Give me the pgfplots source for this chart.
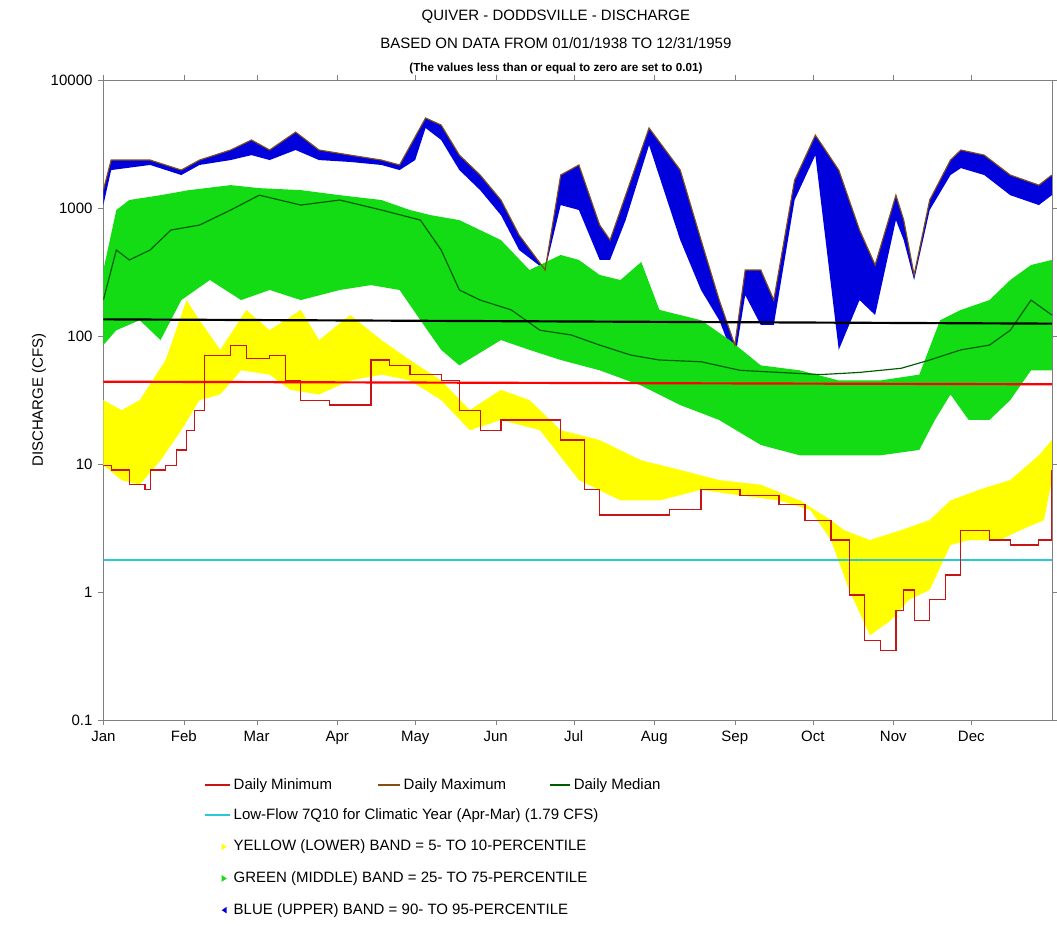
\documentclass[border=0pt]{standalone}
\usepackage{pgfplots}
\pgfplotsset{compat=1.18}
\usepgfplotslibrary{fillbetween}
\usepackage{fontspec}
\setmainfont{Liberation Sans}
\definecolor{bandblue}{RGB}{0,0,220}
\definecolor{bandgreen}{RGB}{20,220,20}
\definecolor{bandyellow}{RGB}{255,255,0}
\definecolor{maxbrown}{RGB}{130,80,20}
\definecolor{medgreen}{RGB}{0,90,0}
\definecolor{lowflowcyan}{RGB}{40,200,215}
\definecolor{minred}{RGB}{200,20,20}
\begin{document}
\begin{tikzpicture}[font=\fontsize{9}{11}\selectfont]
\begin{axis}[
  scale only axis, width=569pt, height=384pt,
  ymode=log, ymin=0.1, ymax=10000, xmin=0, xmax=365,
  ytick={0.1,1,10,100,1000,10000},
  yticklabels={0.1,1,10,100,1000,10000},
  minor ytick={}, yminorticks=false,
  xtick={0,31,59,90,120,151,181,212,243,273,304,334},
  xticklabels={Jan,Feb,Mar,Apr,May,Jun,Jul,Aug,Sep,Oct,Nov,Dec},
  tick label style={font=\fontsize{9}{11}\selectfont},
  /pgf/number format/assume math mode=true,
  ylabel={DISCHARGE (CFS)}, ylabel style={yshift=-4pt},
  tick align=outside, major tick length=3pt,
  axis line style={gray},
  clip=true,
]
\addplot[draw=lowflowcyan, line width=1pt, mark=none] coordinates {(0,1.79)(120,1.79)(240,1.79)(365,1.79)};
\addplot[draw=none, name path=max] coordinates {(0,1380)(3,2370)(18,2370)(30,1980)(37,2370)(49,2840)(57,3400)(64,2840)(74,3920)(83,2840)(95,2590)(107,2370)(114,2170)(124,5050)(130,4450)(137,2590)(145,1810)(153,1155)(160,615)(170,328)(176,1810)(183,2170)(191,736)(195,562)(210,4220)(222,1980)(230,562)(237,191)(243,85)(247,328)(253,328)(258,191)(266,1650)(274,3710)(283,1980)(291,673)(297,359)(305,1260)(308,805)(312,300)(318,1155)(326,2370)(330,2840)(339,2590)(349,1810)(360,1510)(365,1810)};
\addplot[draw=none, name path=b90] coordinates {(0,1055)(3,1980)(18,2170)(30,1810)(37,2170)(49,2370)(57,2590)(64,2370)(74,2840)(83,2370)(95,2290)(107,2170)(114,1980)(120,2370)(124,4220)(130,3400)(137,1980)(145,1380)(153,880)(160,470)(170,328)(176,1055)(183,965)(191,393)(195,393)(201,805)(210,3100)(222,562)(230,229)(237,133)(243,65)(247,209)(253,122)(258,122)(266,1155)(274,2590)(283,78)(291,191)(297,146)(305,805)(308,562)(312,274)(318,965)(326,1810)(330,2050)(339,1810)(349,1260)(360,1055)(365,1260)};
\addplot[bandblue] fill between[of=max and b90];
\addplot[draw=none, name path=g75] coordinates {(0,328)(5,965)(10,1155)(22,1260)(33,1380)(49,1510)(60,1430)(76,1380)(91,1260)(107,1155)(118,965)(126,880)(137,805)(153,562)(164,328)(176,430)(183,393)(191,300)(199,274)(207,379)(214,160)(230,133)(241,93)(253,59)(268,54)(283,45)(299,45)(314,50)(322,133)(330,160)(341,191)(349,274)(357,359)(365,393)};
\addplot[draw=none, name path=g25] coordinates {(0,85)(5,111)(14,133)(22,93)(30,191)(41,274)(53,191)(64,229)(76,191)(91,229)(103,250)(114,229)(122,133)(130,78)(137,59)(153,93)(164,78)(176,65)(191,54)(207,41)(222,28.9)(237,22.1)(253,14.1)(268,11.7)(283,11.7)(299,11.7)(314,12.9)(320,22.1)(326,35)(333,22.1)(341,22.1)(349,31.6)(357,54)(365,54)};
\addplot[bandgreen] fill between[of=g75 and g25];
\addplot[draw=none, name path=y10] coordinates {(0,31.6)(7,26.4)(14,31.6)(24,65)(32,191)(37,133)(45,78)(55,160)(64,111)(76,160)(83,93)(95,146)(107,93)(118,65)(130,45)(141,26.4)(153,38)(164,31.6)(176,18.4)(191,15.4)(207,10.7)(222,9.0)(237,7.5)(253,6.9)(268,5.2)(280,3.65)(285,3.05)(295,2.55)(307,3.05)(318,3.65)(326,5.2)(337,6.3)(349,7.5)(360,11.7)(365,15.4)};
\addplot[draw=none, name path=y05] coordinates {(0,9.8)(7,7.5)(14,6.9)(22,10.7)(30,18.4)(37,31.6)(45,35)(53,54)(64,50)(72,38)(83,35)(95,45)(107,50)(118,45)(130,31.6)(141,18.4)(153,22.1)(168,18.4)(183,7.5)(199,5.2)(214,5.2)(230,6.3)(245,5.7)(260,5.2)(272,4.4)(280,2.55)(287,1.04)(295,0.46)(303,0.60)(310,0.87)(318,1.04)(326,2.33)(333,2.55)(345,2.55)(353,3.05)(362,3.65)(365,7.5)};
\addplot[bandyellow] fill between[of=y10 and y05];
\addplot[maxbrown, line width=0.7pt] coordinates {(0,1380)(3,2370)(18,2370)(30,1980)(37,2370)(49,2840)(57,3400)(64,2840)(74,3920)(83,2840)(95,2590)(107,2370)(114,2170)(124,5050)(130,4450)(137,2590)(145,1810)(153,1155)(160,615)(170,328)(176,1810)(183,2170)(191,736)(195,562)(210,4220)(222,1980)(230,562)(237,191)(243,85)(247,328)(253,328)(258,191)(266,1650)(274,3710)(283,1980)(291,673)(297,359)(305,1260)(308,805)(312,300)(318,1155)(326,2370)(330,2840)(339,2590)(349,1810)(360,1510)(365,1810)};
\addplot[medgreen, line width=0.7pt] coordinates {(0,191)(5,470)(10,393)(18,470)(26,673)(37,736)(49,965)(60,1260)(76,1055)(91,1155)(107,965)(122,805)(130,470)(137,229)(145,191)(157,160)(168,111)(180,102)(191,85)(203,71)(214,65)(230,63)(245,54)(260,52)(276,50)(291,52)(307,56)(318,65)(330,78)(341,85)(349,111)(357,191)(365,146)};
\addplot[minred, line width=0.7pt, const plot] coordinates {(0,9.8)(3,9.0)(10,6.9)(16,6.3)(18,9.0)(24,9.8)(28,12.9)(32,18.4)(35,26.4)(39,71)(49,85)(55,67)(64,71)(70,45)(76,31.6)(87,28.9)(99,28.9)(103,65)(110,59)(118,50)(130,45)(137,26.4)(145,18.4)(153,22.1)(164,22.1)(176,15.4)(185,6.3)(191,4.0)(207,4.0)(218,4.4)(230,6.3)(245,5.7)(260,4.8)(270,3.65)(280,2.55)(287,0.95)(293,0.42)(299,0.35)(305,0.72)(308,1.04)(312,0.60)(318,0.87)(324,1.36)(330,3.05)(341,2.55)(349,2.33)(360,2.55)(365,9.0)};
\addplot[black, line width=1.3pt] coordinates {(0,135)(365,125)};
\addplot[red, line width=1.3pt] coordinates {(0,44)(365,42)};
\end{axis}
\node at ([xshift=-13pt,yshift=38pt]current axis.north) {QUIVER - DODDSVILLE - DISCHARGE};
\node at ([xshift=-13pt,yshift=22pt]current axis.north) {BASED ON DATA FROM 01/01/1938 TO 12/31/1959};
\node at ([xshift=-13pt,yshift=7pt]current axis.north) {\fontsize{7}{8}\selectfont\bfseries (The values less than or equal to zero are set to 0.01)};
\begin{scope}[shift={(current axis.south west)}]
\draw[minred, line width=0.8pt] (61pt,-39pt) -- (76pt,-39pt);
\node[anchor=west,inner sep=1pt] at (77pt,-39pt) {Daily Minimum};
\draw[maxbrown, line width=0.8pt] (165pt,-39pt) -- (178pt,-39pt);
\node[anchor=west,inner sep=1pt] at (179pt,-39pt) {Daily Maximum};
\draw[medgreen, line width=0.8pt] (268pt,-39pt) -- (280pt,-39pt);
\node[anchor=west,inner sep=1pt] at (281pt,-39pt) {Daily Median};
\draw[lowflowcyan, line width=0.8pt] (61pt,-57pt) -- (76pt,-57pt);
\node[anchor=west,inner sep=1pt] at (77pt,-57pt) {Low-Flow 7Q10 for Climatic Year (Apr-Mar) (1.79 CFS)};
\fill[bandyellow] (71pt,-74pt) -- (74pt,-76pt) -- (71pt,-78pt) -- cycle;
\node[anchor=west,inner sep=1pt] at (77pt,-76pt) {YELLOW (LOWER) BAND = 5- TO 10-PERCENTILE};
\fill[bandgreen] (71pt,-93pt) -- (74pt,-95pt) -- (71pt,-97pt) -- cycle;
\node[anchor=west,inner sep=1pt] at (77pt,-95pt) {GREEN (MIDDLE) BAND = 25- TO 75-PERCENTILE};
\fill[bandblue] (74pt,-112pt) -- (71pt,-114pt) -- (74pt,-116pt) -- cycle;
\node[anchor=west,inner sep=1pt] at (77pt,-114pt) {BLUE (UPPER) BAND = 90- TO 95-PERCENTILE};
\path (-62pt,-123pt) rectangle (572pt,432pt);
\end{scope}
\end{tikzpicture}
\end{document}
